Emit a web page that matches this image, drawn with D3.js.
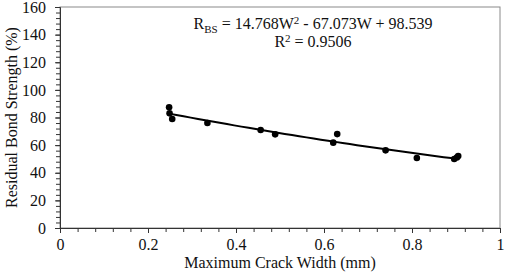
<!DOCTYPE html>
<html>
<head>
<meta charset="utf-8">
<script src="https://cdn.jsdelivr.net/npm/d3@7"></script>
<style>
  body { margin: 0; background: #fff; }
  text { font-family: "Liberation Serif", "Times New Roman", serif; fill: #111; }
</style>
</head>
<body>
<div id="chart"></div>
<script>
let crackWidth = [0.248, 0.249, 0.255, 0.335, 0.456, 0.489, 0.621, 0.630, 0.740, 0.811, 0.896, 0.902, 0.905];
let bondStrength = [87.4, 83.0, 78.9, 76.0, 71.0, 67.8, 61.8, 68.0, 56.2, 50.7, 50.0, 51.0, 52.1];
let fitCoef = [14.768, -67.073, 98.539];
let xTicks = [0, 0.2, 0.4, 0.6, 0.8, 1];
let yTicks = [0, 20, 40, 60, 80, 100, 120, 140, 160];

let margin = {top: 7, right: 5, bottom: 51, left: 60};
let width = 505 - margin.left - margin.right;
let height = 279 - margin.top - margin.bottom;

let svg = d3.select("#chart").append("svg")
    .attr("width", 505)
    .attr("height", 279)
    .append("g")
    .attr("transform", "translate(" + margin.left + "," + margin.top + ")");

let x = d3.scaleLinear().domain([0, 1]).range([0, width]);
let y = d3.scaleLinear().domain([0, 160]).range([height, 0]);

// plot frame
svg.append("rect")
    .attr("width", width)
    .attr("height", height)
    .attr("fill", "none")
    .attr("stroke", "#8a8a8a")
    .attr("stroke-width", 1);

// minor ticks
svg.append("g")
    .attr("transform", `translate(0,${height})`)
    .call(d3.axisBottom(x).tickValues(d3.range(0, 1.0001, 0.04)).tickSize(4).tickFormat(""))
    .call(g => g.select(".domain").remove())
    .selectAll("line").attr("stroke", "#333");

svg.append("g")
    .call(d3.axisLeft(y).tickValues(d3.range(0, 160.001, 4)).tickSize(4).tickFormat(""))
    .call(g => g.select(".domain").remove())
    .selectAll("line").attr("stroke", "#333");

// major axes
let xAxis = svg.append("g")
    .attr("transform", `translate(0,${height})`)
    .call(d3.axisBottom(x).tickValues(xTicks).tickSize(5).tickPadding(6)
        .tickFormat(d => d === 0 || d === 1 ? d : d3.format(".1f")(d)));
xAxis.select(".domain").attr("stroke", "#333");
xAxis.selectAll("line").attr("stroke", "#333");
xAxis.selectAll("text").style("font-size", "16px").attr("fill", "#111");

let yAxis = svg.append("g")
    .call(d3.axisLeft(y).tickValues(yTicks).tickSize(5).tickPadding(9));
yAxis.select(".domain").attr("stroke", "#333");
yAxis.selectAll("line").attr("stroke", "#333");
yAxis.selectAll("text").style("font-size", "16px").attr("fill", "#111");

// axis titles
svg.append("text")
    .attr("x", width / 2)
    .attr("y", height + 40)
    .attr("text-anchor", "middle")
    .style("font-size", "16px")
    .text("Maximum Crack Width (mm)");

svg.append("text")
    .attr("transform", `translate(${-43},${height / 2}) rotate(-90)`)
    .attr("text-anchor", "middle")
    .style("font-size", "16px")
    .text("Residual Bond Strength (%)");

// trend line
let fit = w => fitCoef[0] * w * w + fitCoef[1] * w + fitCoef[2];
let wMin = d3.min(crackWidth), wMax = d3.max(crackWidth);
let fitData = d3.range(0, 41).map(i => wMin + (wMax - wMin) * i / 40);

svg.append("path")
    .datum(fitData)
    .attr("fill", "none")
    .attr("stroke", "#000")
    .attr("stroke-width", 2)
    .attr("d", d3.line().x(d => x(d)).y(d => y(fit(d))));

// points
svg.selectAll("circle")
    .data(crackWidth)
    .enter()
    .append("circle")
    .attr("cx", d => x(d))
    .attr("cy", (d, i) => y(bondStrength[i]))
    .attr("r", 3.3)
    .attr("fill", "#000");

// equation
let eq = svg.append("text")
    .attr("x", 253)
    .attr("y", 22)
    .attr("text-anchor", "middle")
    .style("font-size", "16px");
eq.append("tspan").text("R");
eq.append("tspan").attr("dy", 4).style("font-size", "11px").text("BS");
eq.append("tspan").attr("dy", -4).text(" = 14.768W");
eq.append("tspan").attr("dy", -5).style("font-size", "11px").text("2");
eq.append("tspan").attr("dy", 5).text(" - 67.073W + 98.539");

let r2 = svg.append("text")
    .attr("x", 253)
    .attr("y", 40)
    .attr("text-anchor", "middle")
    .style("font-size", "16px");
r2.append("tspan").text("R");
r2.append("tspan").attr("dy", -5).style("font-size", "11px").text("2");
r2.append("tspan").attr("dy", 5).text(" = 0.9506");
</script>
</body>
</html>
